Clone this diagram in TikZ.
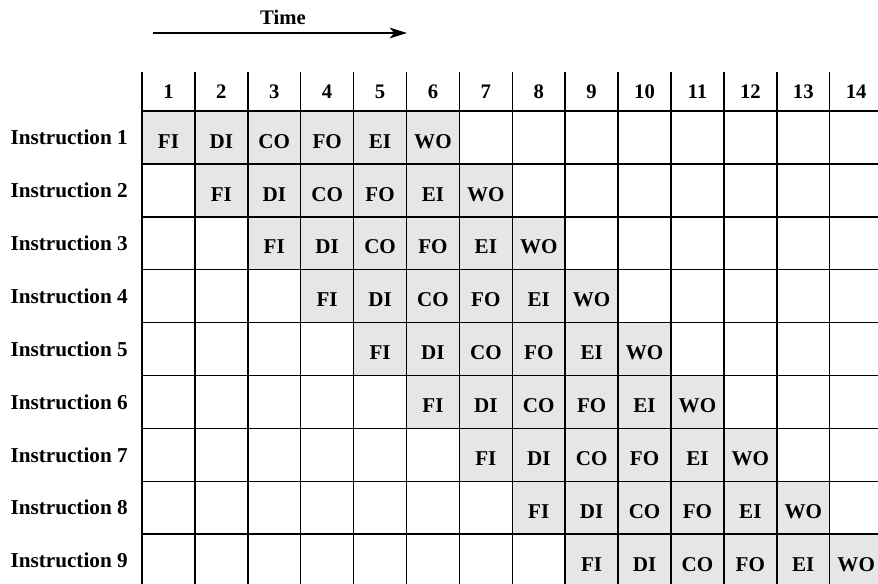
\documentclass[tikz,border=0pt]{standalone}
\usepackage{fontspec}
\setmainfont{Liberation Serif}
\usetikzlibrary{arrows.meta}
\definecolor{plFill}{HTML}{E6E6E6}
\tikzset{
  plLine/.style={line width=1.1pt, draw=black},
  plCell/.style={rectangle, plLine, minimum width=52.9*0.75pt, minimum height=52.9*0.75pt,
                 inner sep=0pt, outer sep=0pt, font=\fontsize{15.8}{18}\bfseries\selectfont,
                 text height=16pt, text depth=0pt},
  plStage/.style={plCell, fill=plFill},
  plHead/.style={font=\fontsize{15.5}{18}\bfseries\selectfont, inner sep=0pt},
  plRow/.style={font=\fontsize{15.9}{18}\bfseries\selectfont, inner sep=0pt, anchor=east},
  plArrow/.style={-{Stealth[length=13pt, width=8pt, inset=3.5pt]}, line width=1.6pt},
}
\begin{document}
\begin{tikzpicture}[x=0.75pt, y=-0.75pt]
  \useasboundingbox (0,0) rectangle (878,583);

  % ─── Time axis ────────────────────────────────────────────────────────────────
  \node[plHead] (time) at (283,17) {Time};
  \coordinate (t0) at (153,33);
  \coordinate (t1) at (407,33);
  \draw[plArrow] (t0) -- (t1);

  % ─── Clock cycle numbers ──────────────────────────────────────────────────────
  \foreach \j in {1,...,14}
    \node[plHead] (h\j) at ({142+(\j-0.5)*52.9}, 91.5) {\j};
  \foreach \j in {0,...,14}
    \draw[plLine] ({142+\j*52.9}, 72) -- ++(0,39);

  % ─── Empty grid, one row per instruction ─────────────────────────────────────
  \foreach \i in {1,...,9} {
    \node[plRow] (r\i) at (128, {111+(\i-0.5)*52.9}) {Instruction \i};
    \foreach \j in {1,...,14}
      \node[plCell] (c-\i-\j) at ({142+(\j-0.5)*52.9}, {111+(\i-0.5)*52.9}) {};
  }

  % ─── Six stages, shifted one cycle per instruction ───────────────────────────
  \foreach \i in {1,...,9}
    \foreach \st [count=\s from 0] in {FI,DI,CO,FO,EI,WO} {
      \pgfmathtruncatemacro\j{\i+\s}
      \node[plStage] (s-\i-\j) at (c-\i-\j) {\st};
    }

\end{tikzpicture}
\end{document}
